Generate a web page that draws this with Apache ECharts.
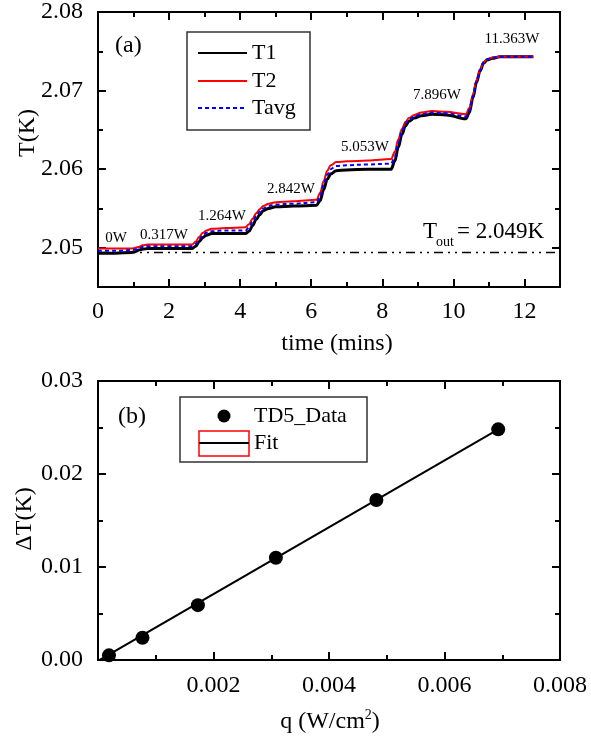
<!DOCTYPE html>
<html><head><meta charset="utf-8">
<script src="https://cdn.jsdelivr.net/npm/echarts@6/dist/echarts.min.js"></script>
<style>html,body{margin:0;padding:0;background:#fff}#c{width:591px;height:742px}</style>
</head><body><div id="c"></div>
<script>
// ---- Panel (a) data ----
const time = [0,0.5,0.95,1.05,1.15,1.25,1.4,2.0,2.65,2.75,2.85,2.95,3.05,3.2,3.6,4.15,4.25,4.35,4.45,4.55,4.65,4.8,5.0,5.5,6.15,6.25,6.35,6.45,6.55,6.7,7.0,7.6,8.25,8.35,8.45,8.55,8.65,8.75,8.9,9.1,9.4,9.8,10.35,10.45,10.55,10.65,10.75,10.85,10.95,11.1,11.3,11.6,12.25];
const T1 = [2.0493,2.0493,2.0494,2.0495,2.0497,2.0498,2.0499,2.0499,2.0499,2.0502,2.0508,2.0513,2.0516,2.0518,2.0518,2.0518,2.0521,2.0528,2.0536,2.0542,2.0547,2.0550,2.0552,2.0553,2.0554,2.0560,2.0574,2.0587,2.0594,2.0598,2.0599,2.0600,2.0600,2.0610,2.0628,2.0644,2.0655,2.0661,2.0665,2.0668,2.0670,2.0669,2.0664,2.0672,2.0691,2.0710,2.0725,2.0735,2.0739,2.0741,2.0743,2.0743,2.0743];
const T2 = [2.0499,2.0499,2.0499,2.0500,2.0501,2.0503,2.0504,2.0504,2.0504,2.0508,2.0514,2.0519,2.0522,2.0524,2.0525,2.0526,2.0530,2.0537,2.0544,2.0549,2.0553,2.0556,2.0558,2.0559,2.0561,2.0570,2.0585,2.0598,2.0605,2.0609,2.0610,2.0611,2.0613,2.0622,2.0638,2.0651,2.0660,2.0665,2.0669,2.0672,2.0674,2.0673,2.0670,2.0678,2.0695,2.0713,2.0727,2.0736,2.0740,2.0742,2.0743,2.0743,2.0743];
const Tavg = [2.0496,2.0496,2.0497,2.0498,2.0499,2.0501,2.0502,2.0502,2.0502,2.0505,2.0511,2.0516,2.0519,2.0521,2.0522,2.0522,2.0526,2.0533,2.0540,2.0546,2.0550,2.0553,2.0555,2.0556,2.0558,2.0565,2.0580,2.0593,2.0600,2.0604,2.0605,2.0606,2.0607,2.0616,2.0633,2.0648,2.0658,2.0663,2.0667,2.0670,2.0672,2.0671,2.0667,2.0675,2.0693,2.0712,2.0726,2.0736,2.0740,2.0742,2.0743,2.0743,2.0743];
const toutLevel = 2.0494;
const toutText = '= 2.049K';
const powerLabels = ['0W','0.317W','1.264W','2.842W','5.053W','7.896W','11.363W'];
const xTicksA = [0,2,4,6,8,10,12];
const xMinorA = [1,3,5,7,9,11];
const yTicksA = [2.05,2.06,2.07,2.08];
const yMinorA = [2.055,2.065,2.075];

// ---- Panel (b) data ----
const qData = [0.00019,0.00077,0.00173,0.00308,0.00482,0.00693];
const dTData = [0.0005,0.0024,0.0059,0.0110,0.0172,0.0248];
const fitQ = [0,0.00693];
const fitDT = [-0.0001,0.0248];
const xTicksB = [0.002,0.004,0.006,0.008];
const yTicksB = [0,0.01,0.02,0.03];

const FONT = 'Liberation Serif';
const chart = echarts.init(document.getElementById('c'), null, {renderer:'canvas'});

function axis(o){
  const a = {
    type:'value', gridIndex:o.grid, position:o.pos, min:o.min, max:o.max,
    splitLine:{show:false},
    axisLine:{show:o.line!==false, onZero:false, lineStyle:{color:'#000', width:2}},
    axisTick:{show:true, inside:true, length:o.len||8, lineStyle:{color:'#000', width:2}},
    axisLabel:{show:!!o.labels, margin:o.margin||15, color:'#000', fontFamily:FONT, fontSize:24,
      formatter:o.fmt}
  };
  if (o.interval) a.interval = o.interval;
  if (o.ticks) { a.axisTick.customValues = o.ticks; }
  if (o.labels) { a.axisLabel.customValues = o.labels; }
  if (o.minor) a.minorTick = {show:true, splitNumber:2, length:5, lineStyle:{color:'#000', width:2}};
  return a;
}

const xAxes = [
  axis({grid:0,pos:'bottom',min:0,max:13,ticks:xTicksA,labels:xTicksA,margin:13,fmt:v=>String(v)}),
  axis({grid:0,pos:'bottom',min:0,max:13,ticks:xMinorA,len:5,line:false}),
  axis({grid:0,pos:'top',min:0,max:13,ticks:xTicksA}),
  axis({grid:0,pos:'top',min:0,max:13,ticks:xMinorA,len:5,line:false}),
  axis({grid:1,pos:'bottom',min:0,max:0.008,interval:0.002,ticks:[0].concat(xTicksB),labels:xTicksB,minor:true,margin:14,fmt:v=>v.toFixed(3)}),
  axis({grid:1,pos:'top',min:0,max:0.008,interval:0.002,minor:true})
];
const yAxes = [
  axis({grid:0,pos:'left',min:2.045,max:2.08,ticks:yTicksA,labels:yTicksA,fmt:v=>v.toFixed(2)}),
  axis({grid:0,pos:'left',min:2.045,max:2.08,ticks:yMinorA,len:5,line:false}),
  axis({grid:0,pos:'right',min:2.045,max:2.08,ticks:yTicksA}),
  axis({grid:0,pos:'right',min:2.045,max:2.08,ticks:yMinorA,len:5,line:false}),
  axis({grid:1,pos:'left',min:0,max:0.03,interval:0.01,ticks:yTicksB,labels:yTicksB,minor:true,fmt:v=>v.toFixed(2)}),
  axis({grid:1,pos:'right',min:0,max:0.03,interval:0.01,minor:true})
];

const pairs = (xs, ys) => xs.map((x,i)=>[x, ys[i]]);
const lineBase = {type:'line', xAxisIndex:0, yAxisIndex:0, symbol:'none', smooth:0.35, smoothMonotone:'x', silent:true};

function txt(x, y, text, size, extra){
  return {type:'text', x:x, y:y, style:Object.assign({text:text, fill:'#000', font:size+'px "'+FONT+'"', textAlign:'left', textVerticalAlign:'middle'}, extra||{})};
}
function ln(x1,y1,x2,y2,stroke,w,dash){
  return {type:'line', shape:{x1,y1,x2,y2}, style:{stroke:stroke, lineWidth:w, lineDash:dash||null}};
}

const powerPos = [[116,238],[164,235],[222,216],[291,189],[365,147],[437,95],[512,39]];
const yNameA = txt(28,133,'T(K)',24,{textAlign:'center'}); yNameA.rotation = Math.PI/2;
const yNameB = txt(25,519,'ΔT(K)',24,{textAlign:'center'}); yNameB.rotation = Math.PI/2;
const graphic = [
  txt(115,46,'(a)',24),
  {type:'rect', shape:{x:187,y:32,width:123,height:98}, style:{fill:'none', stroke:'#333', lineWidth:1.5}},
  ln(198,53,247,53,'#000',2), txt(252,53,'T1',22),
  ln(198,81,247,81,'#f00',2), txt(252,81,'T2',22),
  ln(198,108,247,108,'#00f',2,[4,3]), txt(252,108,'Tavg',22),
  txt(423,232,'T',23), txt(436,242,'out',14), txt(457,232,toutText,23),
  txt(118,417,'(b)',24),
  {type:'rect', shape:{x:180,y:397,width:187,height:65}, style:{fill:'none', stroke:'#333', lineWidth:1.5}},
  {type:'circle', shape:{cx:224,cy:416,r:6.5}, style:{fill:'#000'}},
  txt(254,416,'TD5_Data',22),
  {type:'rect', shape:{x:199,y:431,width:50,height:25}, style:{fill:'none', stroke:'#f00', lineWidth:1.5}},
  ln(199,443,249,443,'#000',2), txt(254,443,'Fit',22),
  yNameA, yNameB,
  txt(337,344,'time (mins)',24,{textAlign:'center'}),
  {type:'text', x:330, y:721, style:{text:'{m|q (W/cm}{s|2}{m|)}', textAlign:'center', textVerticalAlign:'middle',
    rich:{m:{fontFamily:FONT, fontSize:24, fill:'#000', lineHeight:26, verticalAlign:'bottom'}, s:{fontFamily:FONT, fontSize:14, fill:'#000', verticalAlign:'top', lineHeight:14}}}}
];
powerLabels.forEach((s,i)=>graphic.push(txt(powerPos[i][0], powerPos[i][1], s, 15, {textAlign:'center'})));

chart.setOption({
  animation:false,
  backgroundColor:'#fff',
  grid:[
    {left:98, top:7, width:462, height:280},
    {left:98, top:381, width:462, height:279}
  ],
  xAxis:xAxes,
  yAxis:yAxes,
  series:[
    Object.assign({}, lineBase, {name:'T1', data:pairs(time,T1), lineStyle:{color:'#000', width:3}, z:2}),
    Object.assign({}, lineBase, {name:'T2', data:pairs(time,T2), lineStyle:{color:'#f00', width:2}, z:3}),
    Object.assign({}, lineBase, {name:'Tavg', data:pairs(time,Tavg), lineStyle:{color:'#00f', width:2, type:[4,3]}, z:4}),
    {type:'line', xAxisIndex:0, yAxisIndex:0, symbol:'none', silent:true, data:[[0,toutLevel],[13,toutLevel]],
      lineStyle:{color:'#000', width:1.6, type:[9,5,2,5,2,5]}},
    {type:'line', xAxisIndex:4, yAxisIndex:4, symbol:'none', silent:true, clip:true, data:pairs(fitQ,fitDT),
      lineStyle:{color:'#000', width:2}},
    {type:'scatter', xAxisIndex:4, yAxisIndex:4, symbol:'circle', symbolSize:14, silent:true, data:pairs(qData,dTData),
      itemStyle:{color:'#000', opacity:1}}
  ],
  graphic:graphic
});
</script></body></html>
